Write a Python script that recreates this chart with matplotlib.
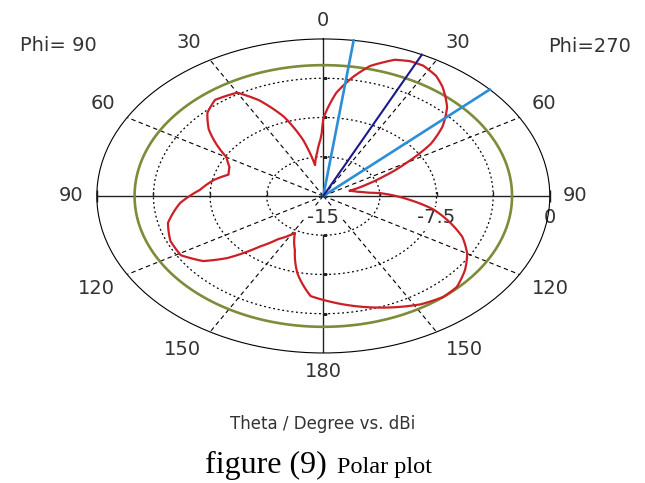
import numpy as np
import matplotlib.pyplot as plt
from matplotlib.path import Path
from matplotlib.patches import PathPatch

# Far-field cut: angle (deg, clockwise from top) and gain (dBi)
theta_deg = [0, 5, 10, 14, 20, 24, 28, 33, 37, 44, 50, 55, 60, 65, 69, 74, 80, 84, 86,
             94, 100, 107, 113, 120, 127, 134.5, 140.5, 148, 156.5, 167, 177.5, 185,
             193, 200, 208, 216, 221, 227, 232, 239, 247, 256, 266, 274, 282, 288, 294,
             300, 304, 310, 316, 322, 330, 335, 341, 346, 349.5, 354.5, 358, 359]
gain_dbi = [-7.6, -5.1, -3.4, -2.2, -1.15, -0.9, -0.9, -1.3, -1.9, -3.2, -4.7, -6.3, -8.6,
            -10.6, -11.9, -13.2, -12.7, -12.0, -11.2,
            -9.2, -7.6, -6.2, -5.0, -4.0, -3.25, -2.6, -2.5, -2.8, -3.4, -4.15, -4.9, -5.4,
            -7.4, -9.5, -11.0, -9.9, -8.6, -6.3, -4.9, -4.0, -4.0, -4.4, -5.5, -6.8, -7.6,
            -8.4, -8.2, -7.6, -6.6, -5.1, -3.95, -3.35, -3.6, -4.9, -7.0, -9.5, -12.0,
            -10.8, -9.6, -9.0]

main_lobe_deg = 25.8
beam_edges_deg = [7.7, 47.3]
ref_circle_db = -2.5

r_min, r_max = -15, 0
ring_levels = [-11.25, -7.5, -3.75]
r_labels = ['-15', '-7.5', '0']
r_label_vals = [-15, -7.5, 0]
theta_ticks = [0, 30, 60, 90, 120, 150, 180, 210, 240, 270, 300, 330]
theta_tick_labels = ['0', '30', '60', '90', '120', '150', '180',
                     '150', '120', '90', '60', '30']

txt_col = '#333333'

fig = plt.figure(figsize=(6.45, 4.83), dpi=100)
ax = fig.add_axes([0.1501, 0.2692, 0.7023, 0.6501], projection='polar')
ax.set_aspect('auto')
ax.set_theta_zero_location('N')
ax.set_theta_direction(-1)
ax.set_xticks([])
ax.set_yticks([])
ax.grid(False)
ax.set_ylim(r_min, r_max)
ax.spines['polar'].set_linewidth(0.8)
ax.spines['polar'].set_color('black')

tt = np.linspace(0, 2 * np.pi, 361)

# dotted rings
for lv in ring_levels:
    ax.plot(tt, np.full_like(tt, lv), color='black', lw=0.9, ls=(0, (1.5, 2.2)), zorder=1)

# dashed spokes
for t in theta_ticks:
    if t % 90:
        ax.plot([np.deg2rad(t)] * 2, [r_min, r_max], color='black', lw=0.8,
                ls=(0, (4, 3)), zorder=1)

# solid cross
axis_col = '#222222'
for t, r0 in [(0, r_min), (90, r_min), (270, r_min), (180, ring_levels[0])]:
    ax.plot([np.deg2rad(t)] * 2, [r0, r_max], color=axis_col, lw=1.0, zorder=1.5)

for lv in ring_levels:
    ax.plot(np.deg2rad([90, 270]), [lv, lv], ls='none', marker=2, ms=3,
            mew=1.0, color=axis_col, zorder=1.5)
    ax.plot(np.deg2rad([0, 180]), [lv, lv], ls='none', marker=1, ms=3,
            mew=1.0, color=axis_col, zorder=1.5)
ax.plot(np.deg2rad([90, 270]), [r_max, r_max], ls='none', marker='|', ms=9,
        mew=1.0, color=axis_col, zorder=1.5, clip_on=False)

# level labels (under the curves)
for v, lab in zip(r_label_vals, r_labels):
    bb = dict(boxstyle='square,pad=0.1', fc='white', ec='none') if v != r_max else None
    ax.annotate(lab, xy=(np.deg2rad(90), v), xytext=(0, -22),
                textcoords='offset pixels', ha='center', va='center', fontsize=14,
                color=txt_col, bbox=bb, zorder=1.8, annotation_clip=False)

# reference circle
ax.plot(tt, np.full_like(tt, ref_circle_db), color='#7D8B3A', lw=1.9, zorder=2)

# pattern: polar-interpolated path between the read points
th = np.deg2rad(theta_deg + [theta_deg[0] + 360])
verts = np.column_stack([th, gain_dbi + [gain_dbi[0]]])
pattern = Path(verts, _interpolation_steps=16)
ax.add_patch(PathPatch(pattern, fill=False, ec='#CC1F26', lw=1.6, zorder=3,
                       joinstyle='round'))

# main lobe and beam width markers
for t in beam_edges_deg:
    ax.plot([np.deg2rad(t)] * 2, [r_min, r_max], color='#2B8ED6', lw=1.9,
            zorder=4, clip_on=False)
ax.plot([np.deg2rad(main_lobe_deg)] * 2, [r_min, r_max], color='#1A1A8E', lw=1.5,
        zorder=4, clip_on=False)

# angle labels
for t, lab in zip(theta_ticks, theta_tick_labels):
    s, c = np.sin(np.deg2rad(t)), np.cos(np.deg2rad(t))
    ha = 'left' if s > 0.1 else ('right' if s < -0.1 else 'center')
    va = 'bottom' if c > 0.1 else ('top' if c < -0.1 else 'center')
    dx = 8 * s + 5 * np.sign(round(s, 3))
    ax.annotate(lab, xy=(np.deg2rad(t), r_max), xytext=(dx, 9 * c),
                textcoords='offset pixels', ha=ha, va=va, fontsize=14,
                color=txt_col, annotation_clip=False)

fig.text(58 / 645, 1 - 45.5 / 483, 'Phi= 90', ha='center', va='center',
         fontsize=14, color=txt_col)
fig.text(589.5 / 645, 1 - 46.5 / 483, 'Phi=270', ha='center', va='center',
         fontsize=14, color=txt_col)

fig.text(323 / 645, 1 - 429 / 483, 'Theta / Degree vs. dBi', ha='center',
         va='baseline', fontsize=12, color=txt_col)
fig.text(205 / 645, 1 - 473 / 483, 'figure (9)', ha='left', va='baseline',
         fontsize=23, family='Liberation Serif', color='black')
fig.text(337 / 645, 1 - 473 / 483, 'Polar plot', ha='left', va='baseline',
         fontsize=17.5, family='Liberation Serif', color='black')

fig.savefig('out.png', dpi=100)
